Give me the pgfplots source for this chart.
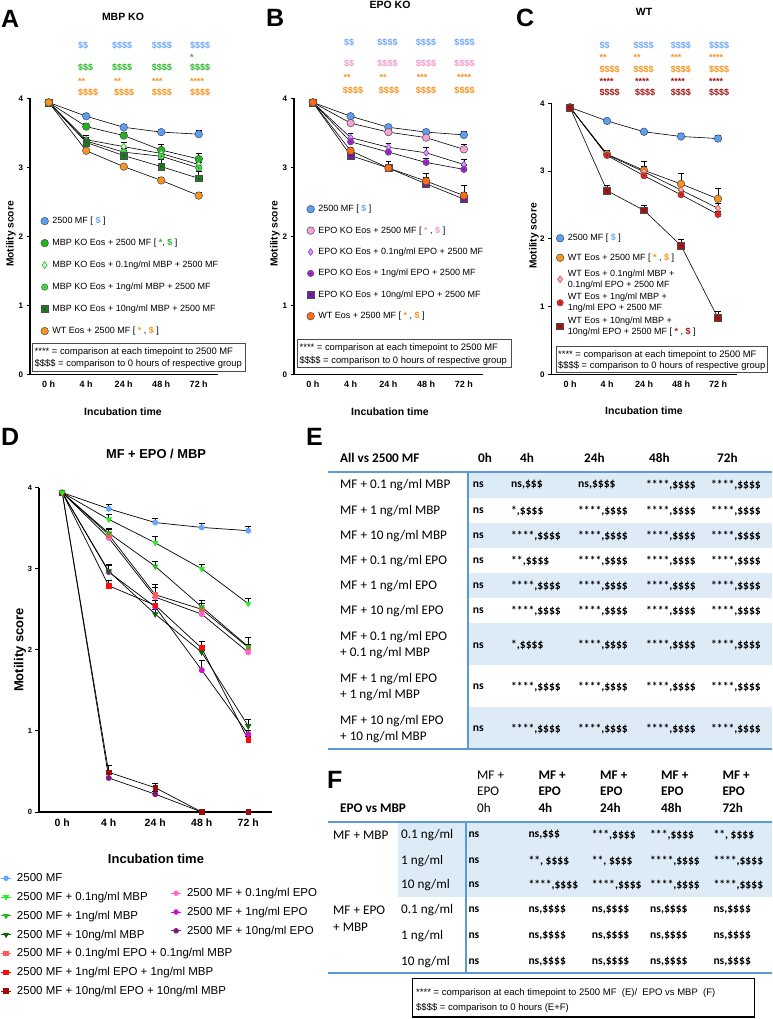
\documentclass[border=0pt]{standalone}
\usepackage{pgfplots}
\pgfplotsset{compat=1.18}
\usepackage{fontspec}
\setmainfont{Liberation Sans}
\newfontfamily\calib{Carlito}

% series colours
\definecolor{cBlue}{HTML}{5B9EF5}
\definecolor{cBlueT}{HTML}{6FA8FF}
\definecolor{cGreen}{HTML}{22B322}
\definecolor{cGreenT}{HTML}{2DB82D}
\definecolor{cLime}{HTML}{3EE83E}
\definecolor{cDkGreen}{HTML}{1F7A1F}
\definecolor{cOrange}{HTML}{F7931E}
\definecolor{cPink}{HTML}{F5A3D6}
\definecolor{cPinkT}{HTML}{F49AC8}
\definecolor{cLilac}{HTML}{D6A3F0}
\definecolor{cLilacE}{HTML}{A040D0}
\definecolor{cPurple}{HTML}{B01FE0}
\definecolor{cDkPurple}{HTML}{74209E}
\definecolor{cRedOr}{HTML}{FF6A13}
\definecolor{cSalmon}{HTML}{FFB8B8}
\definecolor{cSalmonE}{HTML}{E05050}
\definecolor{cRed}{HTML}{F22222}
\definecolor{cDkRed}{HTML}{A31515}
\definecolor{dBlue}{HTML}{66A6FF}
\definecolor{dG1}{HTML}{22EE22}
\definecolor{dG2}{HTML}{2CB52C}
\definecolor{dG3}{HTML}{0B640B}
\definecolor{dR1}{HTML}{FF5A5A}
\definecolor{dR2}{HTML}{FF0A0A}
\definecolor{dR3}{HTML}{9E0B0B}
\definecolor{dP1}{HTML}{FF66CC}
\definecolor{dP2}{HTML}{CC11CC}
\definecolor{dP3}{HTML}{7E1A7E}
\definecolor{tabBlue}{HTML}{5B9BD5}
\definecolor{tabFill}{HTML}{DDEBF7}

% filled marks with a small black centre dot
\pgfdeclareplotmark{dotcirc}{%
  \pgfpathcircle{\pgfpointorigin}{\pgfplotmarksize}\pgfusepathqfillstroke
  \begin{pgfscope}\pgfsetfillcolor{black}%
  \pgfpathcircle{\pgfpointorigin}{0.55pt}\pgfusepathqfill\end{pgfscope}}
\pgfdeclareplotmark{dotsquare}{%
  \pgfpathrectangle{\pgfpoint{-\pgfplotmarksize}{-\pgfplotmarksize}}{\pgfpoint{2\pgfplotmarksize}{2\pgfplotmarksize}}\pgfusepathqfillstroke
  \begin{pgfscope}\pgfsetfillcolor{black}%
  \pgfpathcircle{\pgfpointorigin}{0.55pt}\pgfusepathqfill\end{pgfscope}}

\pgfplotsset{
  gp/.style={
    scale only axis, axis lines=left, axis line style={-, line width=1.3pt},
    xmin=-0.5, xmax=4.5, ymin=0, ymax=4,
    xtick={0,...,4}, xticklabels={0 h,4 h,24 h,48 h,72 h},
    ytick={0,1,2,3,4},
    tick align=outside, major tick length=3.5pt,
    xtick style={draw=none}, ytick style={line width=1pt, black},
    xticklabel style={font=\bfseries\fontsize{9}{10}\selectfont},
    yticklabel style={font=\bfseries\fontsize{8}{9}\selectfont},
    /pgf/number format/assume math mode=true,
    clip=false,
    legend cell align=left,
    legend image code/.code={\draw[##1] plot coordinates {(0pt,0pt)};},
  },
  ln/.style={black, line width=0.6pt},
  mk/.style n args={3}{mark=#1, mark size=#2, mark options={solid, fill=#3, draw=black!70, line width=0.5pt}},
  mkd/.style n args={4}{mark=#1, mark size=#2, mark options={solid, fill=#3, draw=#4, line width=0.7pt}},
  dm/.style n args={3}{black, line width=0.7pt, mark=#1, mark size=#2, mark options={solid, fill=#3, draw=#3}},
  dmt/.style n args={2}{black, line width=0.7pt, mark=triangle*, mark size=#1, mark options={solid, rotate=180, fill=#2, draw=#2}},
  eb/.style={error bars/.cd, y dir=plus, y explicit, error bar style={black, line width=0.6pt}, error mark options={rotate=90, mark size=2.8pt, black, line width=0.6pt}},
}

\newcommand{\ann}[5]{\node[anchor=#1, text=#2, font=\bfseries\fontsize{9}{10}\selectfont, inner sep=0pt] at (#3pt,-#4pt) {#5};}
\newcommand{\note}[3]{\node[anchor=base west, inner sep=0pt, font=\fontsize{9.4}{11}\selectfont] at (#1pt,-#2pt) {#3};}

\begin{document}
\begin{tikzpicture}
\path[use as bounding box] (0pt,-1019pt) rectangle (772pt,0pt);

%%%%%%%%%%%%%%%%%%%%%%%% A : MBP KO
\begin{axis}[gp, at={(30pt,-374.3pt)}, anchor=south west, width=187.5pt, height=276pt,
  legend style={at={(0.057,0.583)}, anchor=north west, draw=none, fill=none, inner sep=0pt,
    row sep=7pt, column sep=2.5pt, font=\fontsize{9}{11}\selectfont,
    nodes={inner sep=1.5pt, minimum height=15pt}}]
\addplot[ln, mk={*}{3.8pt}{cBlue}, eb] coordinates {(0,3.94)+-(0,0.02) (1,3.74)+-(0,0.04) (2,3.58)+-(0,0.04) (3,3.51)+-(0,0.04) (4,3.48)+-(0,0.05)};
\addlegendentry{2500 MF [ \textcolor{cBlueT}{\textbf{\$}} ]}
\addplot[ln, mk={*}{3.8pt}{cGreen}, eb] coordinates {(0,3.94)+-(0,0.02) (1,3.59)+-(0,0.05) (2,3.46)+-(0,0.05) (3,3.25)+-(0,0.08) (4,3.12)+-(0,0.09)};
\addlegendentry{MBP KO Eos + 2500 MF [ \textcolor{cGreenT}{\textbf{*}}, \textcolor{cGreenT}{\textbf{\$}} ]}
\addplot[ln, mkd={diamond*}{3.3pt}{green!12}{cGreenT}, eb] coordinates {(0,3.94)+-(0,0.02) (1,3.40)+-(0,0.06) (2,3.30)+-(0,0.06) (3,3.20)+-(0,0.06) (4,3.04)+-(0,0.07)};
\addlegendentry{MBP KO Eos + 0.1ng/ml MBP + 2500 MF}
\addplot[ln, mk={dotcirc}{3.2pt}{cLime}, eb] coordinates {(0,3.94)+-(0,0.02) (1,3.38)+-(0,0.06) (2,3.22)+-(0,0.06) (3,3.16)+-(0,0.06) (4,2.99)+-(0,0.08)};
\addlegendentry{MBP KO Eos + 1ng/ml MBP + 2500 MF}
\addplot[ln, mk={dotsquare}{3.4pt}{cDkGreen}, eb] coordinates {(0,3.94)+-(0,0.02) (1,3.36)+-(0,0.06) (2,3.17)+-(0,0.07) (3,3.01)+-(0,0.10) (4,2.84)+-(0,0.10)};
\addlegendentry{MBP KO Eos + 10ng/ml MBP + 2500 MF}
\addplot[ln, mk={*}{3.8pt}{cOrange}, eb] coordinates {(0,3.94)+-(0,0.02) (1,3.24)+-(0,0.03) (2,3.01)+-(0,0.03) (3,2.81)+-(0,0.05) (4,2.59)+-(0,0.05)};
\addlegendentry{WT Eos + 2500 MF [ \textcolor{cOrange}{\textbf{*}} , \textcolor{cOrange}{\textbf{\$}} ]}
\end{axis}

%%%%%%%%%%%%%%%%%%%%%%%% B : EPO KO
\begin{axis}[gp, at={(294pt,-374.3pt)}, anchor=south west, width=188.75pt, height=276pt,
  legend style={at={(0.067,0.626)}, anchor=north west, draw=none, fill=none, inner sep=0pt,
    row sep=6.4pt, column sep=2.5pt, font=\fontsize{9}{11}\selectfont,
    nodes={inner sep=1.5pt, minimum height=15pt}}]
\addplot[ln, mk={*}{3.8pt}{cBlue}, eb] coordinates {(0,3.94)+-(0,0.02) (1,3.74)+-(0,0.04) (2,3.58)+-(0,0.04) (3,3.51)+-(0,0.04) (4,3.47)+-(0,0.05)};
\addlegendentry{2500 MF [ \textcolor{cBlueT}{\textbf{\$}} ]}
\addplot[ln, mk={*}{3.8pt}{cPink}, eb] coordinates {(0,3.94)+-(0,0.02) (1,3.64)+-(0,0.04) (2,3.51)+-(0,0.05) (3,3.43)+-(0,0.05) (4,3.26)+-(0,0.08)};
\addlegendentry{EPO KO Eos + 2500 MF [ \textcolor{cPinkT}{\textbf{*}} , \textcolor{cPinkT}{\textbf{\$}} ]}
\addplot[ln, mkd={diamond*}{3.3pt}{cLilac}{cLilacE}, eb] coordinates {(0,3.94)+-(0,0.02) (1,3.43)+-(0,0.06) (2,3.29)+-(0,0.06) (3,3.21)+-(0,0.08) (4,3.04)+-(0,0.08)};
\addlegendentry{EPO KO Eos + 0.1ng/ml EPO + 2500 MF}
\addplot[ln, mk={dotcirc}{3.2pt}{cPurple}, eb] coordinates {(0,3.94)+-(0,0.02) (1,3.37)+-(0,0.06) (2,3.22)+-(0,0.07) (3,3.07)+-(0,0.06) (4,2.97)+-(0,0.06)};
\addlegendentry{EPO KO Eos + 1ng/ml EPO + 2500 MF}
\addplot[ln, mk={dotsquare}{3.4pt}{cDkPurple}, eb] coordinates {(0,3.94)+-(0,0.02) (1,3.17)+-(0,0.05) (2,2.99)+-(0,0.10) (3,2.76)+-(0,0.10) (4,2.54)+-(0,0.10)};
\addlegendentry{EPO KO Eos + 10ng/ml EPO + 2500 MF}
\addplot[ln, mk={*}{3.8pt}{cRedOr}, eb] coordinates {(0,3.94)+-(0,0.02) (1,3.24)+-(0,0.05) (2,2.99)+-(0,0.10) (3,2.80)+-(0,0.12) (4,2.59)+-(0,0.15)};
\addlegendentry{WT Eos + 2500 MF [ \textcolor{cOrange}{\textbf{*}} , \textcolor{cOrange}{\textbf{\$}} ]}
\end{axis}

%%%%%%%%%%%%%%%%%%%%%%%% C : WT
\begin{axis}[gp, at={(551.5pt,-374.3pt)}, anchor=south west, width=185pt, height=271pt,
  legend style={at={(0.025,0.536)}, anchor=north west, draw=none, fill=none, inner sep=0pt,
    row sep=1.5pt, column sep=2.5pt, font=\fontsize{9}{11}\selectfont,
    nodes={inner sep=1.5pt, minimum height=18pt, align=left}}]
\addplot[ln, mk={*}{3.8pt}{cBlue}, eb] coordinates {(0,3.94)+-(0,0.02) (1,3.74)+-(0,0.04) (2,3.58)+-(0,0.04) (3,3.51)+-(0,0.04) (4,3.48)+-(0,0.05)};
\addlegendentry{2500 MF [ \textcolor{cBlueT}{\textbf{\$}} ]}
\addplot[ln, mk={*}{3.8pt}{cOrange}, eb] coordinates {(0,3.94)+-(0,0.02) (1,3.25)+-(0,0.05) (2,3.01)+-(0,0.13) (3,2.81)+-(0,0.15) (4,2.59)+-(0,0.15)};
\addlegendentry{WT Eos + 2500 MF [ \textcolor{cOrange}{\textbf{*}} , \textcolor{cOrange}{\textbf{\$}} ]}
\addplot[ln, mkd={diamond*}{3.3pt}{cSalmon}{cSalmonE}, eb] coordinates {(0,3.94)+-(0,0.02) (1,3.24)+-(0,0.05) (2,2.99)+-(0,0.08) (3,2.72)+-(0,0.10) (4,2.45)+-(0,0.08)};
\addlegendentry{WT Eos + 0.1ng/ml MBP +\\0.1ng/ml EPO + 2500 MF}
\addplot[ln, mk={dotcirc}{3.2pt}{cRed}, eb] coordinates {(0,3.94)+-(0,0.02) (1,3.23)+-(0,0.05) (2,2.93)+-(0,0.05) (3,2.65)+-(0,0.06) (4,2.36)+-(0,0.05)};
\addlegendentry{WT Eos + 1ng/ml MBP +\\1ng/ml EPO + 2500 MF}
\addplot[ln, mk={dotsquare}{3.4pt}{cDkRed}, eb] coordinates {(0,3.94)+-(0,0.02) (1,2.71)+-(0,0.08) (2,2.42)+-(0,0.08) (3,1.90)+-(0,0.10) (4,0.83)+-(0,0.10)};
\addlegendentry{WT Eos + 10ng/ml MBP +\\10ng/ml EPO + 2500 MF [ \textcolor{cDkRed}{\textbf{*}} , \textcolor{cDkRed}{\textbf{\$}} ]}
\end{axis}

%%%%%%%%%%%%%%%%%%%%%%%% D : MF + EPO / MBP
\begin{axis}[gp, at={(39pt,-812pt)}, anchor=south west, width=232.5pt, height=324.3pt,
  axis line style={-, line width=1.5pt},
  xticklabel style={font=\bfseries\fontsize{10.5}{12}\selectfont},
  yticklabel style={font=\bfseries\fontsize{7.5}{9}\selectfont},
  legend image code/.code={\draw[mark repeat=2, mark phase=2, #1] plot coordinates {(0pt,0pt) (5pt,0pt) (10pt,0pt)};},
  legend style={at={(-0.1656,-0.182)}, anchor=north west, draw=none, fill=none, inner sep=0pt,
    row sep=4.8pt, column sep=4pt, font=\fontsize{11.5}{13}\selectfont,
    nodes={inner sep=1.5pt, minimum height=14pt}}]
\addplot[forget plot, dm={*}{2.6pt}{dBlue}, eb] coordinates {(0,3.94)+-(0,0.02) (1,3.74)+-(0,0.05) (2,3.57)+-(0,0.05) (3,3.51)+-(0,0.05) (4,3.47)+-(0,0.05)};
\addplot[forget plot, dm={*}{2.6pt}{dP1}, eb] coordinates {(0,3.94)+-(0,0.02) (1,3.38)+-(0,0.07) (2,2.65)+-(0,0.12) (3,2.44)+-(0,0.08) (4,1.97)+-(0,0.10)};
\addplot[forget plot, dm={*}{2.6pt}{dP2}, eb] coordinates {(0,3.94)+-(0,0.02) (1,2.96)+-(0,0.08) (2,2.53)+-(0,0.08) (3,1.75)+-(0,0.12) (4,0.96)+-(0,0.05)};
\addplot[forget plot, dm={*}{2.6pt}{dP3}, eb] coordinates {(0,3.94)+-(0,0.02) (1,0.42)+-(0,0.05) (2,0.22)+-(0,0.03) (3,0)+-(0,0) (4,0)+-(0,0)};
\addplot[forget plot, dm={square*}{2.4pt}{dR1}, eb] coordinates {(0,3.94)+-(0,0.02) (1,3.42)+-(0,0.07) (2,2.68)+-(0,0.13) (3,2.50)+-(0,0.08) (4,2.03)+-(0,0.12)};
\addplot[forget plot, dm={square*}{2.4pt}{dR2}, eb] coordinates {(0,3.94)+-(0,0.02) (1,2.79)+-(0,0.07) (2,2.55)+-(0,0.10) (3,2.02)+-(0,0.09) (4,0.89)+-(0,0.05)};
\addplot[forget plot, dm={square*}{2.4pt}{dR3}, eb] coordinates {(0,3.94)+-(0,0.02) (1,0.49)+-(0,0.09) (2,0.30)+-(0,0.05) (3,0)+-(0,0) (4,0)+-(0,0)};
\addplot[forget plot, dmt={3pt}{dG3}, eb] coordinates {(0,3.94)+-(0,0.02) (1,2.97)+-(0,0.08) (2,2.44)+-(0,0.06) (3,1.97)+-(0,0.08) (4,1.06)+-(0,0.08)};
\addplot[forget plot, dmt={3pt}{dG2}, eb] coordinates {(0,3.94)+-(0,0.02) (1,3.44)+-(0,0.06) (2,3.03)+-(0,0.06) (3,2.53)+-(0,0.08) (4,2.04)+-(0,0.12)};
\addplot[forget plot, dmt={3pt}{dG1}, eb] coordinates {(0,3.94)+-(0,0.02) (1,3.61)+-(0,0.06) (2,3.32)+-(0,0.08) (3,3.00)+-(0,0.05) (4,2.57)+-(0,0.06)};
\addlegendimage{dBlue, line width=0.8pt, mark=*, mark size=2.3pt, mark options={solid, fill=dBlue, draw=dBlue}}
\addlegendentry{2500 MF}
\addlegendimage{dG1, line width=0.8pt, mark=triangle*, mark size=2.8pt, mark options={solid, rotate=180, fill=dG1, draw=dG1}}
\addlegendentry{2500 MF + 0.1ng/ml MBP}
\addlegendimage{dG2, line width=0.8pt, mark=triangle*, mark size=2.8pt, mark options={solid, rotate=180, fill=dG2, draw=dG2}}
\addlegendentry{2500 MF + 1ng/ml MBP}
\addlegendimage{dG3, line width=0.8pt, mark=triangle*, mark size=2.8pt, mark options={solid, rotate=180, fill=dG3, draw=dG3}}
\addlegendentry{2500 MF + 10ng/ml MBP}
\addlegendimage{dR1, line width=0.8pt, mark=square*, mark size=2.3pt, mark options={solid, fill=dR1, draw=dR1}}
\addlegendentry{2500 MF + 0.1ng/ml EPO + 0.1ng/ml MBP}
\addlegendimage{dR2, line width=0.8pt, mark=square*, mark size=2.3pt, mark options={solid, fill=dR2, draw=dR2}}
\addlegendentry{2500 MF + 1ng/ml EPO + 1ng/ml MBP}
\addlegendimage{dR3, line width=0.8pt, mark=square*, mark size=2.3pt, mark options={solid, fill=dR3, draw=dR3}}
\addlegendentry{2500 MF + 10ng/ml EPO + 10ng/ml MBP}
\end{axis}

% second legend column of D
\begin{axis}[at={(39pt,-812pt)}, anchor=south west, scale only axis, width=232.5pt, height=324.3pt,
  hide axis, xmin=0, xmax=1, ymin=0, ymax=1, legend cell align=left,
  legend image code/.code={\draw[mark repeat=2, mark phase=2, #1] plot coordinates {(0pt,0pt) (5pt,0pt) (10pt,0pt)};},
  legend style={at={(0.5656,-0.2282)}, anchor=north west, draw=none, fill=none, inner sep=0pt,
    row sep=4.8pt, column sep=4pt, font=\fontsize{11.5}{13}\selectfont,
    nodes={inner sep=1.5pt, minimum height=14pt}}]
\addlegendimage{dP1, line width=0.8pt, mark=*, mark size=2.3pt, mark options={solid, fill=dP1, draw=dP1}}
\addlegendentry{2500 MF + 0.1ng/ml EPO}
\addlegendimage{dP2, line width=0.8pt, mark=*, mark size=2.3pt, mark options={solid, fill=dP2, draw=dP2}}
\addlegendentry{2500 MF + 1ng/ml EPO}
\addlegendimage{dP3, line width=0.8pt, mark=*, mark size=2.3pt, mark options={solid, fill=dP3, draw=dP3}}
\addlegendentry{2500 MF + 10ng/ml EPO}
\end{axis}

%%%%%%%%%%%%%%%%%%%%%%%% titles, labels, significance marks
\begin{scope}[x=1pt, y=1pt]
\tikzset{plet/.style={font=\bfseries\fontsize{25}{25}\selectfont, inner sep=0pt, anchor=west},
         ttl/.style={font=\bfseries\fontsize{10.5}{12}\selectfont, inner sep=0pt},
         ylab/.style={font=\bfseries\fontsize{10.2}{12}\selectfont, inner sep=0pt, rotate=90}}
\node[plet] at (1,-19) {A};
\node[plet] at (266,-18) {B};
\node[plet] at (516,-18) {C};
\node[plet] at (1,-437) {D};
\node[plet] at (306,-437) {E};
\node[plet] at (327,-780) {F};

\node[ttl] at (123,-17) {MBP KO};
\node[ttl] at (390,-5) {EPO KO};
\node[ttl] at (644,-12) {WT};
\node[ylab] at (11,-234) {Motility score};
\node[ylab] at (275,-234) {Motility score};
\node[ylab] at (534,-236) {Motility score};
\node[ttl] at (123,-412) {Incubation time};
\node[ttl] at (390,-412) {Incubation time};
\node[ttl] at (644,-411) {Incubation time};

\node[font=\bfseries\fontsize{12.9}{14}\selectfont, inner sep=0pt] at (156,-454) {MF + EPO / MBP};
\node[font=\bfseries\fontsize{13}{14}\selectfont, inner sep=0pt, rotate=90] at (20,-650) {Motility score};
\node[font=\bfseries\fontsize{13}{14}\selectfont, inner sep=0pt] at (156,-859) {Incubation time};

% A
\ann{base west}{cBlueT}{78}{48.2}{\$\$}
\ann{base west}{cBlueT}{112}{48.2}{\$\$\$\$}
\ann{base west}{cBlueT}{151.7}{48.2}{\$\$\$\$}
\ann{base west}{cBlueT}{190}{48.2}{\$\$\$\$}
\ann{base west}{cGreenT}{190}{60.4}{*}
\ann{base west}{cGreenT}{78}{70.2}{\$\$\$}
\ann{base west}{cGreenT}{112}{70.2}{\$\$\$\$}
\ann{base west}{cGreenT}{151.7}{70.2}{\$\$\$\$}
\ann{base west}{cGreenT}{190}{70.2}{\$\$\$\$}
\ann{base west}{cOrange}{78}{84.4}{**}
\ann{base west}{cOrange}{114}{84.4}{**}
\ann{base west}{cOrange}{151.7}{84.4}{***}
\ann{base west}{cOrange}{190}{84.4}{****}
\ann{base west}{cOrange}{78}{95.2}{\$\$\$\$}
\ann{base west}{cOrange}{114}{95.2}{\$\$\$\$}
\ann{base west}{cOrange}{151.7}{95.2}{\$\$\$\$}
\ann{base west}{cOrange}{190}{95.2}{\$\$\$\$}
% B
\ann{base}{cBlueT}{349}{45.2}{\$\$}
\ann{base}{cBlueT}{387.5}{45.2}{\$\$\$\$}
\ann{base}{cBlueT}{426}{45.2}{\$\$\$\$}
\ann{base}{cBlueT}{464.5}{45.2}{\$\$\$\$}
\ann{base}{cPinkT}{349}{66.2}{\$\$}
\ann{base}{cPinkT}{387.5}{66.2}{\$\$\$\$}
\ann{base}{cPinkT}{426}{66.2}{\$\$\$\$}
\ann{base}{cPinkT}{464.5}{66.2}{\$\$\$\$}
\ann{base}{cOrange}{347}{80.4}{**}
\ann{base}{cOrange}{383}{80.4}{**}
\ann{base}{cOrange}{422}{80.4}{***}
\ann{base}{cOrange}{464}{80.4}{****}
\ann{base}{cOrange}{353}{93.2}{\$\$\$\$}
\ann{base}{cOrange}{389}{93.2}{\$\$\$\$}
\ann{base}{cOrange}{426}{93.2}{\$\$\$\$}
\ann{base}{cOrange}{464.5}{93.2}{\$\$\$\$}
% C
\ann{base west}{cBlueT}{599.3}{48.2}{\$\$}
\ann{base west}{cBlueT}{633.3}{48.2}{\$\$\$\$}
\ann{base west}{cBlueT}{670.7}{48.2}{\$\$\$\$}
\ann{base west}{cBlueT}{709}{48.2}{\$\$\$\$}
\ann{base west}{cOrange}{599.3}{60.4}{**}
\ann{base west}{cOrange}{633.3}{60.4}{**}
\ann{base west}{cOrange}{670.7}{60.4}{***}
\ann{base west}{cOrange}{709}{60.4}{****}
\ann{base west}{cOrange}{599.3}{72.2}{\$\$\$\$}
\ann{base west}{cOrange}{633.3}{72.2}{\$\$\$\$}
\ann{base west}{cOrange}{670.7}{72.2}{\$\$\$\$}
\ann{base west}{cOrange}{709}{72.2}{\$\$\$\$}
\ann{base west}{cDkRed}{599.3}{84.4}{****}
\ann{base west}{cDkRed}{635}{84.4}{****}
\ann{base west}{cDkRed}{670.7}{84.4}{****}
\ann{base west}{cDkRed}{709}{84.4}{****}
\ann{base west}{cDkRed}{599.3}{95.2}{\$\$\$\$}
\ann{base west}{cDkRed}{635}{95.2}{\$\$\$\$}
\ann{base west}{cDkRed}{670.7}{95.2}{\$\$\$\$}
\ann{base west}{cDkRed}{709}{95.2}{\$\$\$\$}

% key boxes
\draw[black!70, line width=0.9pt] (32,-343) rectangle (245,-371);
\note{34.5}{354.2}{**** = comparison at each timepoint to 2500 MF}
\note{34.5}{366.5}{\$\$\$\$ = comparison to 0 hours of respective group}
\draw[black!70, line width=0.9pt] (297,-339) rectangle (511,-367);
\note{299.5}{350.8}{**** = comparison at each timepoint to 2500 MF}
\note{299.5}{363.2}{\$\$\$\$ = comparison to 0 hours of respective group}
\draw[black!70, line width=0.9pt] (556,-346) rectangle (767,-372);
\note{558}{357.5}{**** = comparison at each timepoint to 2500 MF}
\note{558}{368.8}{\$\$\$\$ = comparison to 0 hours of respective group}

%%%%%%%%%%%%%%%%%%%%%%%% E table
\tikzset{lab/.style={anchor=west, inner sep=0pt, align=left, font=\calib\fontsize{13.2}{16}\selectfont},
         hd/.style={anchor=west, inner sep=0pt, font=\calib\bfseries\fontsize{13.2}{16}\selectfont},
         cell/.style={anchor=west, inner sep=0pt, font=\calib\bfseries\fontsize{11.6}{14}\selectfont}}
\fill[tabFill] (468,-472) rectangle (772,-498);
\fill[tabFill] (468,-523) rectangle (772,-548);
\fill[tabFill] (468,-573) rectangle (772,-598);
\fill[tabFill] (468,-623) rectangle (772,-665);
\fill[tabFill] (468,-707) rectangle (772,-749);
\draw[tabBlue, line width=1.2pt] (328,-472) -- (772,-472);
\draw[tabBlue, line width=1.2pt] (328,-749) -- (772,-749);
\draw[tabBlue, line width=1.2pt] (468,-472) -- (468,-749);
\node[hd] at (340,-458) {All vs 2500 MF};
\node[hd] at (478,-458) {0h};
\node[hd] at (520,-458) {4h};
\node[hd] at (584,-458) {24h};
\node[hd] at (649,-458) {48h};
\node[hd] at (717,-458) {72h};
\node[lab] at (340,-485) {MF + 0.1 ng/ml MBP};
\node[lab] at (340,-511) {MF + 1 ng/ml MBP};
\node[lab] at (340,-536) {MF + 10 ng/ml MBP};
\node[lab] at (340,-561) {MF + 0.1 ng/ml EPO};
\node[lab] at (340,-586) {MF + 1 ng/ml EPO};
\node[lab] at (340,-611) {MF + 10 ng/ml EPO};
\node[lab] at (340,-645.5) {MF + 0.1 ng/ml EPO\\+ 0.1 ng/ml MBP};
\node[lab] at (340,-687) {MF + 1 ng/ml EPO\\+ 1 ng/ml MBP};
\node[lab] at (340,-729) {MF + 10 ng/ml EPO\\+ 10 ng/ml MBP};
\foreach \yy/\ca/\cb/\cc/\cd in {
  485/{ns,\$\$\$}/{ns,\$\$\$\$}/{****,\$\$\$\$}/{****,\$\$\$\$},
  511/{*,\$\$\$\$}/{****,\$\$\$\$}/{****,\$\$\$\$}/{****,\$\$\$\$},
  536/{****,\$\$\$\$}/{****,\$\$\$\$}/{****,\$\$\$\$}/{****,\$\$\$\$},
  561/{**,\$\$\$\$}/{****,\$\$\$\$}/{****,\$\$\$\$}/{****,\$\$\$\$},
  586/{****,\$\$\$\$}/{****,\$\$\$\$}/{****,\$\$\$\$}/{****,\$\$\$\$},
  611/{****,\$\$\$\$}/{****,\$\$\$\$}/{****,\$\$\$\$}/{****,\$\$\$\$},
  645.5/{*,\$\$\$\$}/{****,\$\$\$\$}/{****,\$\$\$\$}/{****,\$\$\$\$},
  687/{****,\$\$\$\$}/{****,\$\$\$\$}/{****,\$\$\$\$}/{****,\$\$\$\$},
  729/{****,\$\$\$\$}/{****,\$\$\$\$}/{****,\$\$\$\$}/{****,\$\$\$\$}}{
  \node[cell] at (472.7,-\yy) {ns};
  \node[cell] at (511,-\yy) {\ca};
  \node[cell] at (578,-\yy) {\cb};
  \node[cell] at (646,-\yy) {\cc};
  \node[cell] at (711,-\yy) {\cd};
}

%%%%%%%%%%%%%%%%%%%%%%%% F table
\fill[tabFill] (398,-822) rectangle (772,-897);
\draw[tabBlue, line width=1.2pt] (328,-822) -- (772,-822);
\draw[tabBlue, line width=1.2pt] (328,-973) -- (772,-973);
\draw[tabBlue, line width=1.2pt] (466,-822) -- (466,-973);
\node[lab] at (477,-775) {MF +};
\node[lab] at (477,-791) {EPO};
\node[lab] at (477,-808) {0h};
\foreach \xx/\tt in {538.3/4h, 600/24h, 661/48h, 722.3/72h}{
  \node[hd] at (\xx,-775) {MF +};
  \node[hd] at (\xx,-791) {EPO};
  \node[hd] at (\xx,-808) {\tt};
}
\node[hd] at (340,-808) {EPO vs MBP};
\node[lab] at (333,-835) {MF + MBP};
\node[lab] at (333,-910) {MF + EPO};
\node[lab] at (333,-927) {+ MBP};
\foreach \yy/\cc in {835/{0.1 ng/ml}, 861/{1 ng/ml}, 885/{10 ng/ml}, 910/{0.1 ng/ml}, 936/{1 ng/ml}, 962/{10 ng/ml}}{
  \node[lab] at (401,-\yy) {\cc};
}
\foreach \yy/\ca/\cb/\cc/\cd in {
  835/{ns,\$\$\$}/{***,\$\$\$\$}/{***,\$\$\$\$}/{**, \$\$\$\$},
  861/{**, \$\$\$\$}/{**, \$\$\$\$}/{****,\$\$\$\$}/{****,\$\$\$\$},
  885/{****,\$\$\$\$}/{****,\$\$\$\$}/{****,\$\$\$\$}/{****,\$\$\$\$},
  910/{ns,\$\$\$\$}/{ns,\$\$\$\$}/{ns,\$\$\$\$}/{ns,\$\$\$\$},
  936/{ns,\$\$\$\$}/{ns,\$\$\$\$}/{ns,\$\$\$\$}/{ns,\$\$\$\$},
  962/{ns,\$\$\$\$}/{ns,\$\$\$\$}/{ns,\$\$\$\$}/{ns,\$\$\$\$}}{
  \node[cell] at (468.3,-\yy) {ns};
  \node[cell] at (528.3,-\yy) {\ca};
  \node[cell] at (591.7,-\yy) {\cb};
  \node[cell] at (650,-\yy) {\cc};
  \node[cell] at (713.3,-\yy) {\cd};
}
\draw[black, line width=1.6pt] (412.5,-978.5) rectangle (754.5,-1017.2);
\node[anchor=base west, inner sep=0pt, font=\fontsize{9.5}{11}\selectfont] at (416,-995) {**** = comparison at each timepoint to 2500 MF~~(E)/~~EPO vs MBP~~(F)};
\node[anchor=base west, inner sep=0pt, font=\fontsize{9.5}{11}\selectfont] at (416,-1010) {\$\$\$\$ = comparison to 0 hours (E+F)};
\end{scope}
\end{tikzpicture}
\end{document}
